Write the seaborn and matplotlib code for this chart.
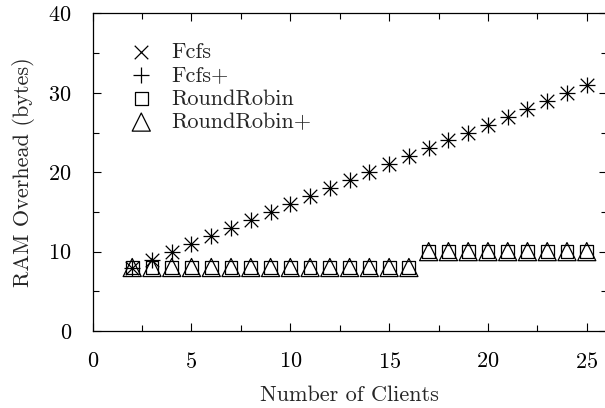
import matplotlib
matplotlib.use("Agg")
import matplotlib.pyplot as plt
import seaborn as sns
import pandas as pd
from matplotlib.ticker import MultipleLocator

# RAM overhead per scheduler as the number of clients grows
clients = list(range(2, 26))
fcfs = [8, 9, 10, 11, 12, 13, 14, 15, 16, 17, 18, 19, 20, 21, 22, 23, 24, 25,
        26, 27, 28, 29, 30, 31]
fcfs_plus = [8, 9, 10, 11, 12, 13, 14, 15, 16, 17, 18, 19, 20, 21, 22, 23, 24,
             25, 26, 27, 28, 29, 30, 31]
round_robin = [8] * 15 + [10] * 9
round_robin_plus = [8] * 15 + [10] * 9

series_names = ["Fcfs", "Fcfs+", "RoundRobin", "RoundRobin+"]
series_values = [fcfs, fcfs_plus, round_robin, round_robin_plus]

df = pd.concat(
    [pd.DataFrame({"clients": clients, "overhead": v, "scheme": n})
     for n, v in zip(series_names, series_values)],
    ignore_index=True,
)

sns.set_style("ticks")
plt.rcParams["font.family"] = ["cmr10", "DejaVu Serif"]
plt.rcParams["mathtext.fontset"] = "cm"
plt.rcParams["axes.unicode_minus"] = False
plt.rcParams["axes.formatter.use_mathtext"] = True

FS = 16

fig = plt.figure(figsize=(6.05, 4.08), dpi=100)
ax = fig.add_axes([0.1532, 0.1887, 0.8493, 0.7783])

styles = {
    "Fcfs": dict(marker="x", s=95, linewidths=0.9),
    "Fcfs+": dict(marker="+", s=140, linewidths=0.9),
    "RoundRobin": dict(marker="s", s=85, linewidths=0.9, facecolors="none"),
    "RoundRobin+": dict(marker="^", s=170, linewidths=0.9, facecolors="none"),
}

for name in series_names:
    sub = df[df["scheme"] == name]
    sns.scatterplot(data=sub, x="clients", y="overhead", ax=ax, color="black",
                    edgecolor="black", label=name, **styles[name])

ax.set_xlim(0, 26)
ax.set_ylim(0, 40)
ax.xaxis.set_major_locator(MultipleLocator(5))
ax.xaxis.set_minor_locator(MultipleLocator(2.5))
ax.yaxis.set_major_locator(MultipleLocator(10))
ax.yaxis.set_minor_locator(MultipleLocator(5))
ax.tick_params(which="both", direction="in", top=True, right=True,
               width=0.8, labelsize=FS, colors="black")
ax.tick_params(which="major", length=6)
ax.tick_params(which="minor", length=4)
ax.tick_params(axis="x", which="major", pad=15)
ax.tick_params(axis="y", which="major", pad=15)
for sp in ax.spines.values():
    sp.set_linewidth(0.9)
    sp.set_color("black")

ax.set_xlabel("Number of Clients", fontsize=FS, labelpad=10)
ax.set_ylabel("RAM Overhead (bytes)", fontsize=FS, labelpad=10)

leg = ax.legend(loc="upper left", bbox_to_anchor=(0.034, 0.937), frameon=False,
                fontsize=FS, labelspacing=0.17, handletextpad=0.35,
                scatterpoints=1, borderaxespad=0)

fig.savefig("out.png", dpi=100)
